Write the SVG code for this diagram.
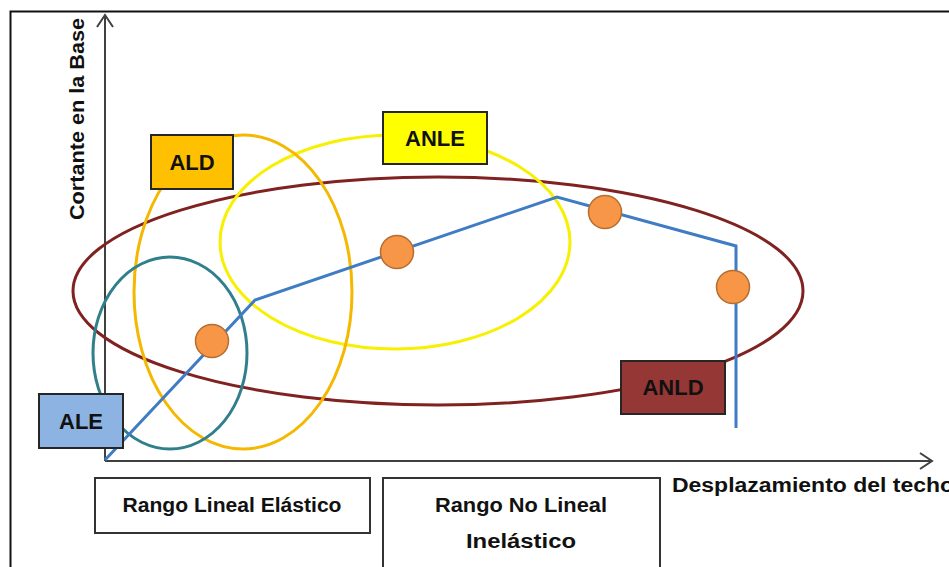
<svg xmlns="http://www.w3.org/2000/svg" width="949" height="567" viewBox="0 0 949 567">
<style>
.lbl{font-family:"Liberation Sans",Arial,sans-serif;font-weight:bold;fill:#111}
.tag{stroke:#262626;stroke-width:2}
.dot{fill:#F79646;stroke:#B66D31;stroke-width:1.5}
.ell{fill:none;stroke-width:3}
.ax{stroke:#404040;stroke-width:2;fill:none}
</style>
<rect width="949" height="567" fill="#fff"/>
<rect x="10.5" y="11.5" width="980" height="600" fill="none" stroke="#111" stroke-width="2"/>
<g id="axes">
<line class="ax" x1="105" y1="461" x2="105" y2="15"/>
<polyline class="ax" points="97,27 105,15 113,27"/>
<line class="ax" x1="105" y1="461" x2="932" y2="461"/>
<polyline class="ax" points="920,453 932,461 920,469"/>
<text class="lbl" transform="translate(84,119) rotate(-90)" text-anchor="middle" font-size="20" textLength="202" lengthAdjust="spacingAndGlyphs">Cortante en la Base</text>
<text class="lbl" x="672" y="492" font-size="20" textLength="282" lengthAdjust="spacingAndGlyphs">Desplazamiento del techo</text>
</g>
<g id="ellipses">
<ellipse id="e-anld" class="ell" cx="438" cy="291" rx="365" ry="114" stroke="#7F2220"/>
<ellipse id="e-anle" class="ell" cx="395" cy="242" rx="175" ry="107" stroke="#F7F000"/>
<ellipse id="e-ald" class="ell" cx="243" cy="292" rx="109" ry="157" stroke="#F5B800"/>
<ellipse id="e-ale" class="ell" cx="170" cy="353" rx="77" ry="96" stroke="#2F7F8C"/>
</g>
<g id="connectors">
<polyline points="105,460 255,300 557,197 736,246 736,428" fill="none" stroke="#3F7CC4" stroke-width="3" stroke-linejoin="miter"/>
</g>
<g id="points">
<circle class="dot" cx="212" cy="341" r="16.5"/>
<circle class="dot" cx="397" cy="252" r="16.5"/>
<circle class="dot" cx="605" cy="212" r="16.5"/>
<circle class="dot" cx="733" cy="287" r="16.5"/>
</g>
<g id="ALD"><rect class="tag" x="151" y="135" width="82" height="54" fill="#FFC000"/><text class="lbl" x="192" y="170" text-anchor="middle" font-size="22">ALD</text></g>
<g id="ANLE"><rect class="tag" x="383" y="112" width="104" height="52" fill="#FFFF00"/><text class="lbl" x="435" y="146" text-anchor="middle" font-size="22">ANLE</text></g>
<g id="ALE"><rect class="tag" x="39" y="394" width="84" height="54" fill="#8DB3E2"/><text class="lbl" x="81" y="429" text-anchor="middle" font-size="22">ALE</text></g>
<g id="ANLD"><rect class="tag" x="621" y="361" width="104" height="53" fill="#953735"/><text class="lbl" x="673" y="395" text-anchor="middle" font-size="22">ANLD</text></g>
<g id="rango-lineal"><rect x="95" y="478" width="275" height="55" fill="#fff" stroke="#333" stroke-width="2"/><text class="lbl" x="232" y="512" text-anchor="middle" font-size="20" textLength="219" lengthAdjust="spacingAndGlyphs">Rango Lineal Elástico</text></g>
<g id="rango-no-lineal"><rect x="383" y="478" width="277" height="110" fill="#fff" stroke="#333" stroke-width="2"/><text class="lbl" x="521" y="512" text-anchor="middle" font-size="20" textLength="172" lengthAdjust="spacingAndGlyphs">Rango No Lineal</text><text class="lbl" x="521" y="548" text-anchor="middle" font-size="20" textLength="110" lengthAdjust="spacingAndGlyphs">Inelástico</text></g>
</svg>
